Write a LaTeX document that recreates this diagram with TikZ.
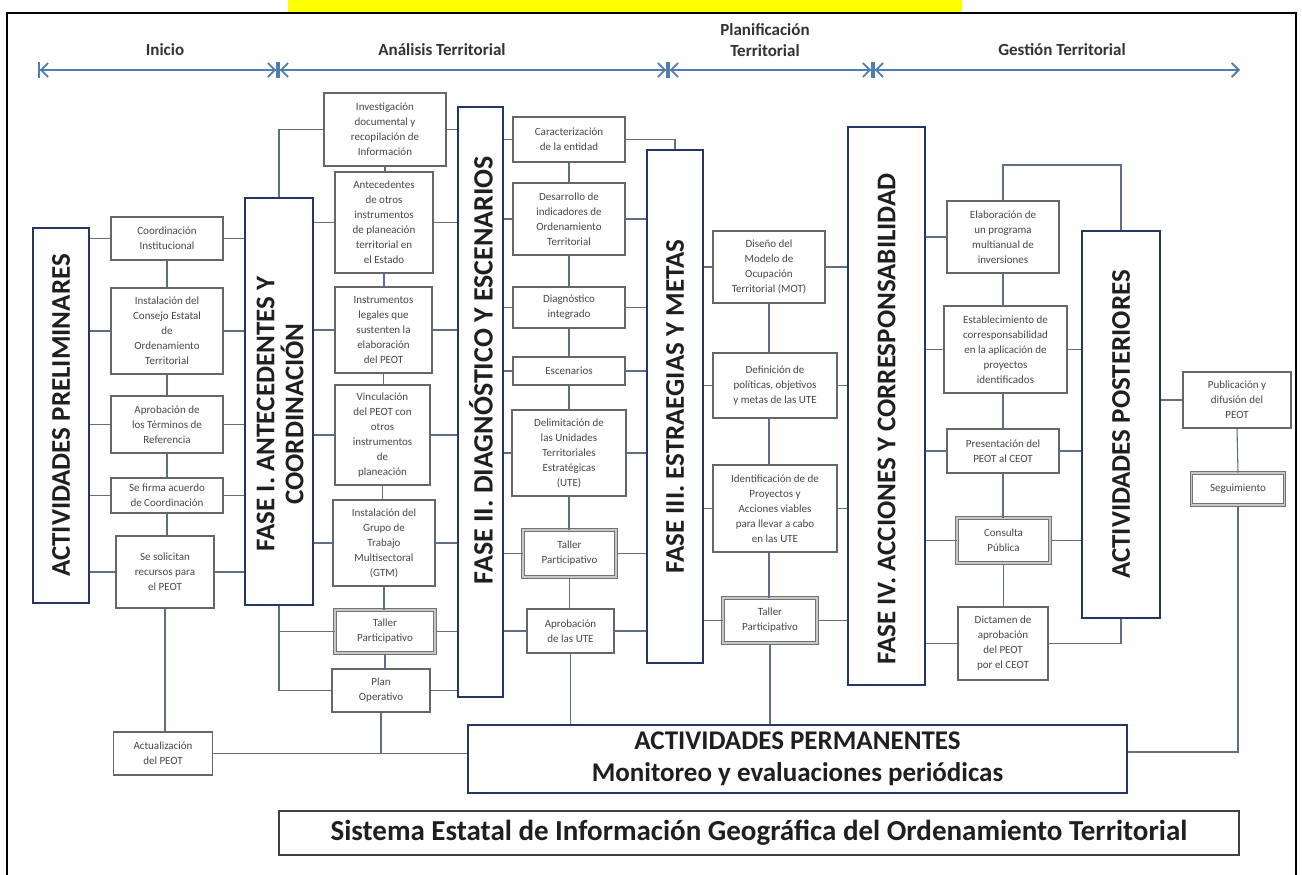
\documentclass[tikz,border=0pt]{standalone}
\usepackage{fontspec}
\setmainfont{Carlito}
\usetikzlibrary{arrows.meta}
\definecolor{navy}{RGB}{35,55,100}
\definecolor{connc}{RGB}{95,110,135}
\definecolor{tlblue}{RGB}{80,125,175}
\definecolor{titleyellow}{RGB}{255,255,0}
\tikzset{
  sbox/.style={draw=black!60, line width=1.1pt, fill=white, align=center, inner sep=1pt,
    font=\fontsize{11}{15}\selectfont, text=black!72},
  dbox/.style={sbox, draw=black!55, line width=1pt, double=black!22, double distance=1.3pt},
  bigbox/.style={draw=navy, line width=2.6pt, fill=white},
  bigtxt/.style={font=\fontsize{27}{29}\selectfont\bfseries, text=black!88, rotate=90, align=center},
  conn/.style={draw=connc, line width=1.1pt},
  tl/.style={draw=tlblue, line width=1.8pt},
  tllab/.style={font=\fontsize{17}{21}\selectfont\bfseries, text=black!80, align=center},
  both/.style={{Bar[width=16pt]Straight Barb[length=7pt,width=14pt]}-{Straight Barb[length=7pt,width=14pt]Bar[width=16pt]}}
}
\begin{document}
\begin{tikzpicture}[x=1pt,y=-1pt]
\useasboundingbox (0,0) rectangle (1302,875);
\fill[white] (0,0) rectangle (1302,875);
% title bar (cut) and frame
\fill[fill=titleyellow] (288,0) rectangle (962,13);
\draw[black, line width=2pt] (7,876) -- (7,13) -- (1296,13) -- (1296,876);

% timeline
\coordinate (t0) at (38,70);
\coordinate (t1) at (278,70);
\coordinate (t2) at (668,70);
\coordinate (t3) at (873,70);
\coordinate (t4) at (1240,70);
\draw[tl, both] (t0) -- (t1);
\draw[tl, both] (t1) -- (t2);
\draw[tl, both] (t2) -- (t3);
\draw[tl, {Bar[width=16pt]Straight Barb[length=7pt,width=14pt]}-{Straight Barb[length=7pt,width=14pt]}] (t3) -- (t4);
\node[tllab] (lab1) at (165,50) {Inicio};
\node[tllab] (lab2) at (442,50) {Análisis Territorial};
\node[tllab] (lab3) at (765,40) {Planificación\\Territorial};
\node[tllab] (lab4) at (1062,50) {Gestión Territorial};

% big boxes
\node[bigbox, minimum width=56pt, minimum height=375pt] (prelim) at (61,415.5) {};
\node[bigtxt] (prelimt) at (prelim.center) {ACTIVIDADES PRELIMINARES};
\node[bigbox, minimum width=68pt, minimum height=407pt] (fase1) at (279,401.5) {};
\node[bigtxt] (fase1t) at (280,414) {FASE I. ANTECEDENTES Y\\COORDINACIÓN};
\node[bigbox, minimum width=45pt, minimum height=590pt] (fase2) at (480.5,402) {};
\node[bigtxt, font=\fontsize{28}{30}\selectfont\bfseries] (fase2t) at (481,370) {FASE II. DIAGNÓSTICO Y ESCENARIOS};
\node[bigbox, minimum width=56pt, minimum height=513pt] (fase3) at (675,406.5) {};
\node[bigtxt] (fase3t) at (fase3.center) {FASE III. ESTRAEGIAS Y METAS};
\node[bigbox, minimum width=77pt, minimum height=558pt] (fase4) at (886.5,406) {};
\node[bigtxt] (fase4t) at (886.5,419) {FASE IV. ACCIONES Y CORRESPONSABILIDAD};
\node[bigbox, minimum width=78pt, minimum height=387pt] (post) at (1121,424.5) {};
\node[bigtxt] (postt) at (post.center) {ACTIVIDADES POSTERIORES};

% column 1
\node[sbox, minimum width=112pt, minimum height=43pt] (coord) at (167,238.5) {Coordinación\\Institucional};
\node[sbox, minimum width=112pt, minimum height=86pt] (consejo) at (167,331) {Instalación del\\Consejo Estatal\\de\\Ordenamiento\\Territorial};
\node[sbox, minimum width=112pt, minimum height=57pt] (aprob) at (167,424.5) {Aprobación de\\los Términos de\\Referencia};
\node[sbox, minimum width=112pt, minimum height=35pt] (firma) at (167,495.5) {Se firma acuerdo\\de Coordinación};
\node[sbox, minimum width=98pt, minimum height=72pt] (solic) at (165,572) {Se solicitan\\recursos para\\el PEOT};
\node[sbox, minimum width=99pt, minimum height=43pt] (actual) at (163,753.5) {Actualización\\del PEOT};

% column 2
\node[sbox, minimum width=122pt, minimum height=73pt] (invest) at (385,129.5) {Investigación\\documental y\\recopilación de\\Información};
\node[sbox, minimum width=98pt, minimum height=101pt] (antec) at (384,222.5) {Antecedentes\\de otros\\instrumentos\\de planeación\\territorial en\\el Estado};
\node[sbox, minimum width=97pt, minimum height=86pt] (instr) at (383.5,330) {Instrumentos\\legales que\\sustenten la\\elaboración\\del PEOT};
\node[sbox, minimum width=95pt, minimum height=100pt] (vinc) at (382.5,435) {Vinculación\\del PEOT con\\otros\\instrumentos\\de\\planeación};
\node[sbox, minimum width=102pt, minimum height=86pt] (grupo) at (384,543) {Instalación del\\Grupo de\\Trabajo\\Multisectoral\\(GTM)};
\node[dbox, minimum width=100pt, minimum height=43pt] (taller1) at (385,631.5) {Taller\\Participativo};
\node[sbox, minimum width=98pt, minimum height=43pt] (plan) at (381,690.5) {Plan\\Operativo};

% column 3
\node[sbox, minimum width=112pt, minimum height=45pt] (caract) at (569,139.5) {Caracterización\\de la entidad};
\node[sbox, minimum width=112pt, minimum height=72pt] (desarr) at (569,219) {Desarrollo de\\indicadores de\\Ordenamiento\\Territorial};
\node[sbox, minimum width=112pt, minimum height=41pt] (diag) at (569,307.5) {Diagnóstico\\integrado};
\node[sbox, minimum width=112pt, minimum height=28pt] (escen) at (569,371) {Escenarios};
\node[sbox, minimum width=114pt, minimum height=86pt] (delim) at (569,453) {Delimitación de\\las Unidades\\Territoriales\\Estratégicas\\(UTE)};
\node[dbox, minimum width=93pt, minimum height=47pt] (taller2) at (569.5,553.5) {Taller\\Participativo};
\node[sbox, minimum width=87pt, minimum height=44pt] (aprute) at (570.5,631) {Aprobación\\de las UTE};

% column 4
\node[sbox, minimum width=112pt, minimum height=72pt] (diseno) at (769,267) {Diseño del\\Modelo de\\Ocupación\\Territorial (MOT)};
\node[sbox, minimum width=124pt, minimum height=65pt] (defin) at (775,385.5) {Definición de\\políticas, objetivos\\y metas de las UTE};
\node[sbox, minimum width=124pt, minimum height=87pt] (ident) at (775,508.5) {Identificación de de\\Proyectos y\\Acciones viables\\para llevar a cabo\\en las UTE};
\node[dbox, minimum width=94pt, minimum height=45pt] (taller3) at (770,620.5) {Taller\\Participativo};

% column 5
\node[sbox, minimum width=112pt, minimum height=72pt] (elab) at (1003,237) {Elaboración de\\un programa\\multianual de\\inversiones};
\node[sbox, minimum width=123pt, minimum height=87pt] (estab) at (1005.5,349.5) {Establecimiento de\\corresponsabilidad\\en la aplicación de\\proyectos\\identificados};
\node[sbox, minimum width=112pt, minimum height=44pt] (present) at (1003,451) {Presentación del\\PEOT al CEOT};
\node[dbox, minimum width=93pt, minimum height=45pt] (consulta) at (1003.5,540.5) {Consulta\\Pública};
\node[sbox, minimum width=90pt, minimum height=73pt] (dictamen) at (1003,643.5) {Dictamen de\\aprobación\\del PEOT\\por el CEOT};

% column 6
\node[sbox, minimum width=108pt, minimum height=56pt] (public) at (1237,400) {Publicación y\\difusión del\\PEOT};
\node[dbox, minimum width=93pt, minimum height=32pt] (seguim) at (1238,489) {Seguimiento};

% bottom boxes
\node[draw=navy, line width=2.4pt, fill=white, minimum width=659pt, minimum height=68pt, align=center,
  font=\fontsize{27}{32}\selectfont\bfseries, text=black!88] (perm) at (797.5,759) {ACTIVIDADES PERMANENTES\\Monitoreo y evaluaciones periódicas};
\node[draw=black!75, line width=1.8pt, fill=white, minimum width=960pt, minimum height=44pt,
  font=\fontsize{29}{30}\selectfont\bfseries, text=black!88] (sistema) at (759,833) {Sistema Estatal de Información Geográfica del Ordenamiento Territorial};

% ---- connectors ----
\foreach \b in {coord,consejo,aprob,firma,solic}{
  \draw[conn] (prelim.east |- \b.west) -- (\b.west);
  \draw[conn] (\b.east) -- (fase1.west |- \b.east);
}
\draw[conn] (coord.south) -- (consejo.north);
\draw[conn] (consejo.south) -- (aprob.north);
\draw[conn] (aprob.south) -- (firma.north);
\draw[conn] (firma.south) -- (firma.south |- solic.north);
\draw[conn] (solic.south) -- (solic.south |- actual.north);
\draw[conn] (actual.east) -- (perm.west |- actual.east);
\draw[conn] (plan.south) -- (plan.south |- actual.east);
\draw[conn] (fase1.north) |- (invest.west);
\foreach \b in {antec,instr,vinc,grupo}{
  \draw[conn] (fase1.east |- \b.west) -- (\b.west);
}
\draw[conn] (fase1.south) |- (plan.west);
\draw[conn] (fase1.south |- taller1.west) -- (taller1.west);
\draw[conn] (invest.south) -- (invest.south |- antec.north);
\draw[conn] (antec.south) -- (antec.south |- instr.north);
\draw[conn] (instr.south) -- (instr.south |- vinc.north);
\draw[conn] (vinc.south) -- (vinc.south |- grupo.north);
\draw[conn] (grupo.south) -- (grupo.south |- taller1.north);
\draw[conn] (taller1.south) -- (taller1.south |- plan.north);
\foreach \b in {invest,antec,instr,vinc,grupo,taller1,plan}{
  \draw[conn] (\b.east) -- (fase2.west |- \b.east);
}
\foreach \b in {caract,desarr,diag,escen,delim,taller2,aprute}{
  \draw[conn] (fase2.east |- \b.west) -- (\b.west);
}
\draw[conn] (caract.south) -- (desarr.north);
\draw[conn] (desarr.south) -- (diag.north);
\draw[conn] (diag.south) -- (escen.north);
\draw[conn] (escen.south) -- (delim.north);
\draw[conn] (delim.south) -- (delim.south |- taller2.north);
\draw[conn] (taller2.south) -- (taller2.south |- aprute.north);
\draw[conn] (aprute.south) -- (aprute.south |- perm.north);
\draw[conn] (caract.east) -| (fase3.north);
\foreach \b in {desarr,diag,escen,delim,taller2,aprute}{
  \draw[conn] (\b.east) -- (fase3.west |- \b.east);
}
\foreach \b in {diseno,defin,ident,taller3}{
  \draw[conn] (fase3.east |- \b.west) -- (\b.west);
  \draw[conn] (\b.east) -- (fase4.west |- \b.east);
}
\draw[conn] (diseno.south) -- (diseno.south |- defin.north);
\draw[conn] (defin.south -| diseno.south) -- (diseno.south |- ident.north);
\draw[conn] (ident.south -| diseno.south) -- (diseno.south |- taller3.north);
\draw[conn] (taller3.south) -- (taller3.south |- perm.north);
\foreach \b in {elab,estab,present,consulta,dictamen}{
  \draw[conn] (fase4.east |- \b.west) -- (\b.west);
}
\draw[conn] (elab.south) -- (elab.south |- estab.north);
\draw[conn] (estab.south -| elab.south) -- (elab.south |- present.north);
\draw[conn] (present.south) -- (present.south |- consulta.north);
\draw[conn] (consulta.south) -- (consulta.south |- dictamen.north);
\foreach \b in {estab,present,consulta}{
  \draw[conn] (\b.east) -- (post.west |- \b.east);
}
\coordinate (elabtop) at (1003,165);
\draw[conn] (elab.north) -- (elab.north |- elabtop) -| (post.north);
\draw[conn] (dictamen.east) -| (post.south);
\draw[conn] (post.east |- public.west) -- (public.west);
\draw[conn] (public.south) -- (seguim.north);
\draw[conn] (seguim.south) |- ([yshift=7pt]perm.east);
\end{tikzpicture}
\end{document}
